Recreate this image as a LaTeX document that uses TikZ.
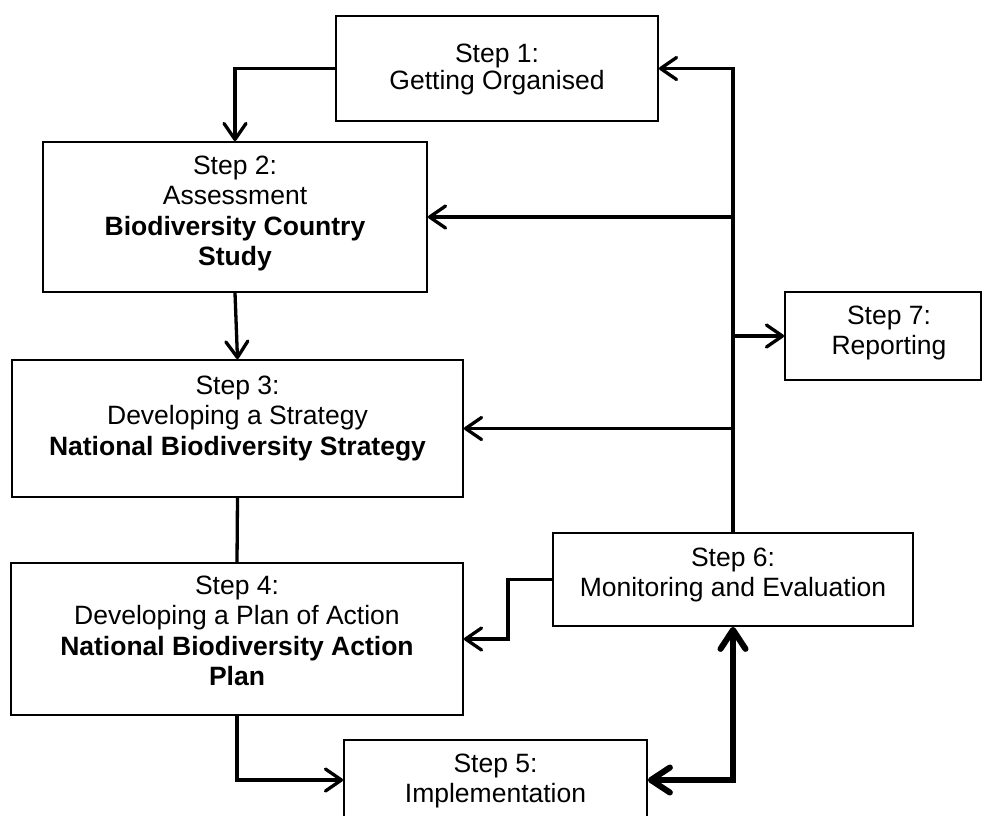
\documentclass[tikz,border=0pt]{standalone}
\usepackage{fontspec}
\setmainfont{Liberation Sans}
\usetikzlibrary{arrows.meta}

\tikzset{
  stepbox/.style={draw, line width=1.8pt, rectangle, inner sep=0pt},
  txt/.style={align=center, inner sep=0pt, anchor=north,
    font=\fontsize{26.5}{30.5}\selectfont},
  conn/.style={line width=3.3pt, -{Straight Barb[length=16pt,width=22pt,round]}},
  link/.style={line width=3.3pt},
  thickconn/.style={line width=6pt,
    {Straight Barb[length=19pt,width=25pt,round]}-{Straight Barb[length=19pt,width=25pt,round]}},
}

\begin{document}
\begin{tikzpicture}[x=1pt,y=-1pt]
\useasboundingbox (0,0) rectangle (982,815);

% boxes
\node[stepbox, minimum width=322, minimum height=105] (s1) at (497,68.5) {};
\node[stepbox, minimum width=384, minimum height=150] (s2) at (235,217) {};
\node[stepbox, minimum width=451, minimum height=137] (s3) at (237.5,428.5) {};
\node[stepbox, minimum width=452, minimum height=152] (s4) at (237,639) {};
\node[stepbox, minimum width=303, minimum height=80]  (s5) at (495.5,780) {};
\node[stepbox, minimum width=360, minimum height=93]  (s6) at (733,579.5) {};
\node[stepbox, minimum width=196, minimum height=88]  (s7) at (883,336) {};

% labels
\node[txt, font=\fontsize{26.5}{27.5}\selectfont] (t1) at (497,43.5) {Step 1:\\Getting Organised};
\node[txt] (t2) at (235,155.5) {Step 2:\\Assessment\\\textbf{Biodiversity Country}\\\textbf{Study}};
\node[txt] (t3) at (237.5,375.5) {Step 3:\\Developing a Strategy\\\textbf{National Biodiversity Strategy}};
\node[txt] (t4) at (237,575.5) {Step 4:\\Developing a Plan of Action\\\textbf{National Biodiversity Action}\\\textbf{Plan}};
\node[txt] (t5) at (495.5,753.5) {Step 5:\\Implementation};
\node[txt] (t6) at (733,547.5) {Step 6:\\Monitoring and Evaluation};
\node[txt] (t7) at (889,305.5) {Step 7:\\Reporting};

% main sequence
\draw[conn] (s1.west) -| (s2.north);
\draw[conn] (s2.south) -- (s3.north);
\draw[link] (s3.south) -- (s4.north);
\draw[conn] (s4.south) |- (s5.west);
\draw[thickconn] (s5.east) -| (s6.south);

% feedback from monitoring
\draw[conn] (s6.west) -- ++(-44,0) |- (s4.east);
\draw[conn] (s6.north) |- (s1.east);
\draw[conn] (s6.north |- s2.east) -- (s2.east);
\draw[conn] (s6.north |- s7.west) -- (s7.west);
\draw[conn] (s6.north |- s3.east) -- (s3.east);
\end{tikzpicture}
\end{document}
